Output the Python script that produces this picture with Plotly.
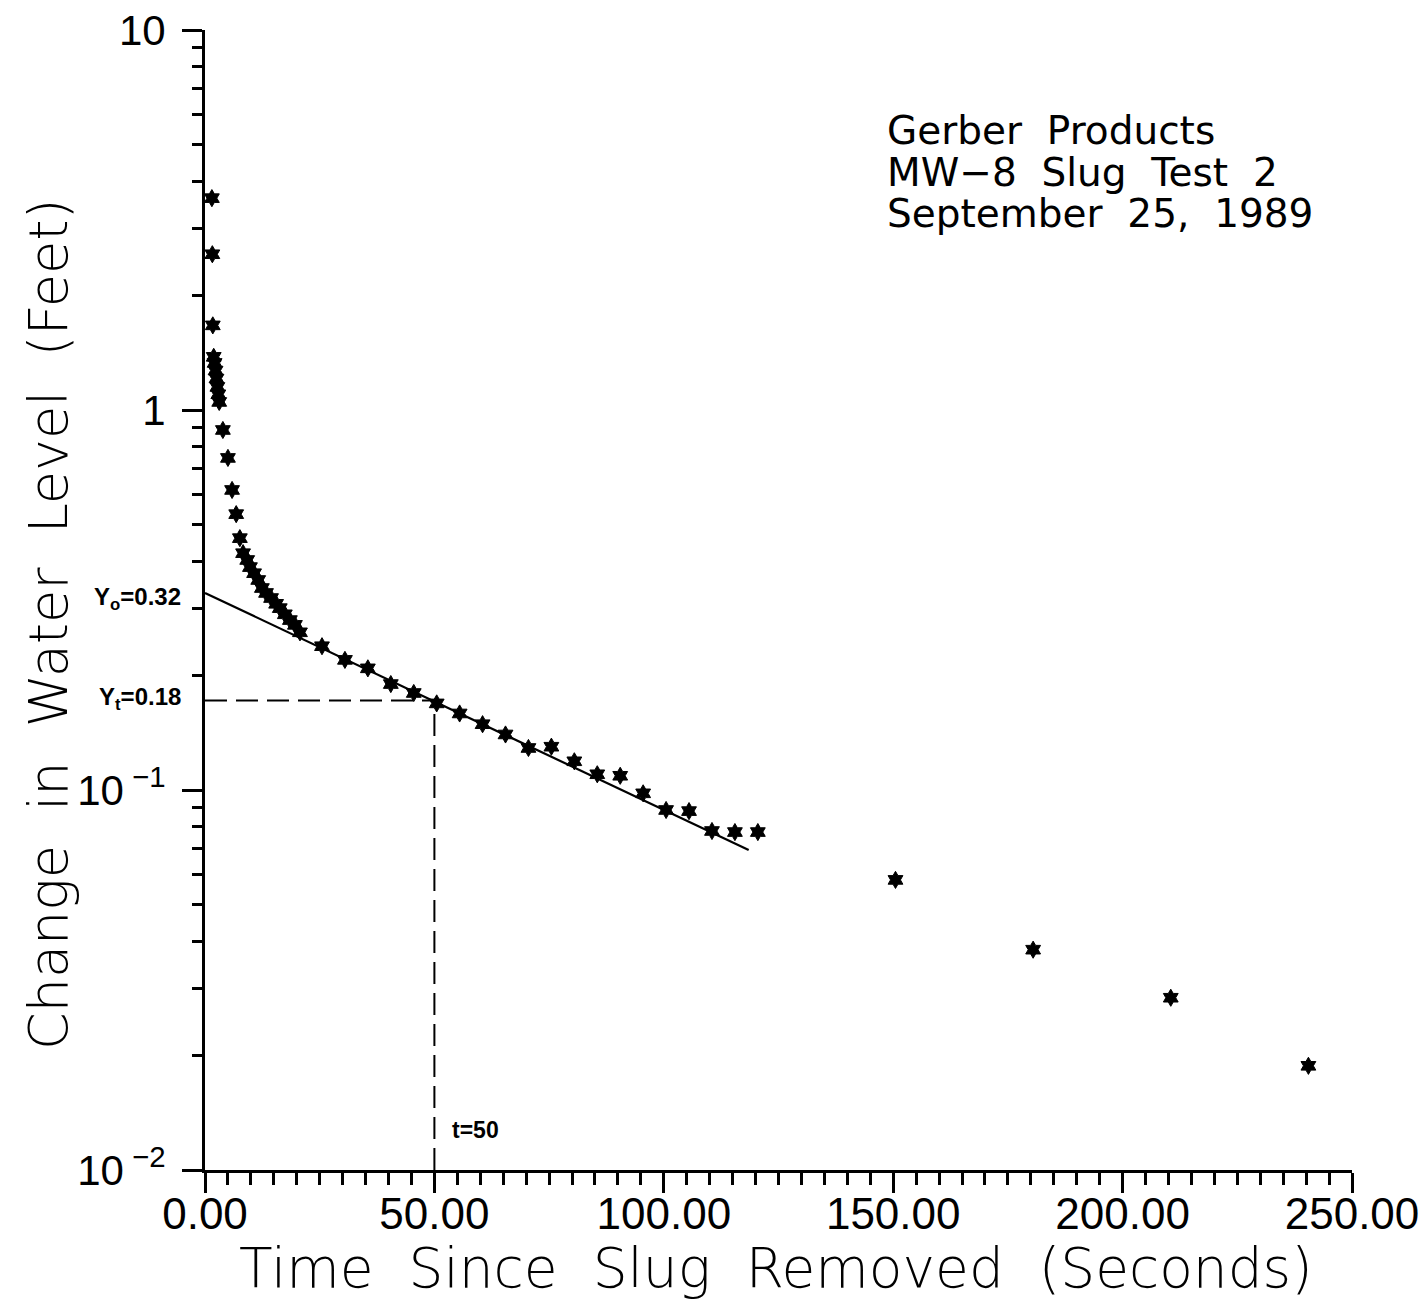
import math
import plotly.graph_objects as go

# ---- data ----
time_s = [1.5, 1.6, 1.7, 1.9, 2.1, 2.3, 2.5, 2.7, 2.9, 3.1, 3.9, 5.0, 5.9, 6.8, 7.6,
          8.3, 9.2, 9.8, 10.7, 11.6, 12.4, 13.3, 14.4, 15.5, 16.3, 17.4, 18.5, 19.6, 20.7,
          25.5, 30.5, 35.5, 40.5, 45.5, 50.5, 55.5, 60.5, 65.5, 70.5, 75.5, 80.5, 85.5,
          90.5, 95.5, 100.5, 105.5, 110.5, 115.5, 120.5, 150.5, 180.5, 210.5, 240.5]
level_ft = [3.61, 2.57, 1.67, 1.38, 1.33, 1.27, 1.21, 1.15, 1.10, 1.05, 0.886, 0.748, 0.616,
            0.532, 0.46, 0.42, 0.403, 0.386, 0.372, 0.357, 0.34, 0.33, 0.32, 0.309, 0.301,
            0.29, 0.28, 0.272, 0.26, 0.239, 0.22, 0.209, 0.19, 0.18, 0.169, 0.159, 0.149,
            0.14, 0.129, 0.13, 0.119, 0.11, 0.109, 0.098, 0.0886, 0.088, 0.078, 0.0775,
            0.0775, 0.058, 0.038, 0.0284, 0.0188]

fit_t = [0, 118.5]
fit_y = [0.33, 0.0695]

t_mark = 50
y_t_mark = 0.172
y_floor = 0.01

x_tickvals = [0, 50, 100, 150, 200, 250]
x_ticktext = ["0.00", "50.00", "100.00", "150.00", "200.00", "250.00"]
y_tickvals = [0.01, 0.1, 1, 10]
y_ticktext = ["10<sup> \u22122</sup>", "10<sup> \u22121</sup>", "1", "10"]
y_minor = [m * 10 ** d for d in (-2, -1, 0) for m in range(2, 10)]

title_lines = ["Gerber\u00a0\u00a0Products", "MW\u22128\u00a0\u00a0Slug\u00a0\u00a0Test\u00a0\u00a02",
               "September\u00a0\u00a025,\u00a0\u00a01989"]
x_title = "Time\u00a0\u00a0Since\u00a0\u00a0Slug\u00a0\u00a0Removed\u00a0\u00a0(Seconds)"
y_title = "Change\u00a0\u00a0in\u00a0\u00a0Water\u00a0\u00a0Level\u00a0\u00a0(Feet)"

TICKFONT = "Liberation Sans, Arial, sans-serif"
TITLEFONT = "DejaVu Sans, sans-serif"

# page body adds an 8px margin; compensate so the plot lands where the reference has it
OFF = 8
W, H = 1427, 1314
ML, MR, MT, MB = 205 - OFF, 75 + OFF, 30 - OFF, 144 + OFF
PW, PH = W - ML - MR, H - MT - MB


def px_to_paper(px, py):
    return (px - OFF - ML) / PW, (H - MB - (py - OFF)) / PH


fig = go.Figure()

fig.add_trace(go.Scatter(x=[0, t_mark], y=[y_t_mark, y_t_mark], mode="lines",
                         line=dict(color="black", width=2, dash="22px,9px"),
                         hoverinfo="skip", showlegend=False))
fig.add_trace(go.Scatter(x=[t_mark, t_mark], y=[y_floor, y_t_mark], mode="lines",
                         line=dict(color="black", width=2, dash="22px,9px"),
                         hoverinfo="skip", showlegend=False))
fig.add_trace(go.Scatter(x=fit_t, y=fit_y, mode="lines",
                         line=dict(color="black", width=2.2), showlegend=False))
fig.add_trace(go.Scatter(x=time_s, y=level_ft, mode="markers",
                         marker=dict(symbol="hexagram", size=13, color="black",
                                     line=dict(color="black", width=1)),
                         showlegend=False, cliponaxis=False))

fig.update_xaxes(range=[0, 250], automargin=False, showline=True, linecolor="black", linewidth=3,
                 showgrid=False, zeroline=False, ticks="outside", ticklen=20, tickwidth=3,
                 tickcolor="black", tickmode="array", tickvals=x_tickvals, ticktext=x_ticktext,
                 tickfont=dict(family=TICKFONT, size=44, color="black"),
                 ticklabelstandoff=-17, ticklabeloverflow="allow",
                 minor=dict(ticks="outside", ticklen=12, tickwidth=2.5, tickcolor="black",
                            dtick=5, tick0=0, showgrid=False))
fig.update_yaxes(type="log", range=[-2, 1], automargin=False, showline=True, linecolor="black",
                 linewidth=3, showgrid=False, zeroline=False, ticks="outside", ticklen=20,
                 tickwidth=3, tickcolor="black", tickmode="array", tickvals=y_tickvals,
                 ticktext=y_ticktext, ticklabelstandoff=8, ticklabeloverflow="allow",
                 tickfont=dict(family=TICKFONT, size=42, color="black"),
                 minor=dict(ticks="outside", ticklen=10, tickwidth=2.5, tickcolor="black",
                            tickvals=y_minor, showgrid=False))

ann = []
for line, py in zip(title_lines, [130, 172, 213]):
    xp, yp = px_to_paper(885, py)
    ann.append(dict(xref="paper", yref="paper", x=xp, y=yp, xanchor="left", yanchor="middle",
                    text=line, align="left", showarrow=False,
                    font=dict(family=TITLEFONT, size=39, color="black")))
xp, yp = px_to_paper(776, 1268)
ann.append(dict(xref="paper", yref="paper", x=xp, y=yp, xanchor="center", yanchor="middle",
                text=x_title, showarrow=False,
                font=dict(family=TITLEFONT, size=55, color="black", weight=300)))
xp, yp = px_to_paper(48, 625)
ann.append(dict(xref="paper", yref="paper", x=xp, y=yp, xanchor="center", yanchor="middle",
                text=y_title, textangle=-90, showarrow=False,
                font=dict(family=TITLEFONT, size=54, color="black", weight=300)))
ann.append(dict(xref="x", yref="y", x=0, y=math.log10(0.32), xanchor="right", yanchor="middle",
                xshift=-22, text="<b>Y<sub>o</sub>=0.32</b>", showarrow=False,
                font=dict(family=TICKFONT, size=24, color="black")))
ann.append(dict(xref="x", yref="y", x=0, y=math.log10(0.174), xanchor="right", yanchor="middle",
                xshift=-22, text="<b>Y<sub>t</sub>=0.18</b>", showarrow=False,
                font=dict(family=TICKFONT, size=24, color="black")))
ann.append(dict(xref="x", yref="y", x=t_mark, y=-1.895, xanchor="left", yanchor="middle",
                xshift=16, text="<b>t=50</b>", showarrow=False,
                font=dict(family=TICKFONT, size=23, color="black")))

fig.update_layout(width=W, height=H, margin=dict(l=ML, r=MR, t=MT, b=MB),
                  plot_bgcolor="white", paper_bgcolor="white", annotations=ann,
                  showlegend=False)

fig.write_html("out.html")
